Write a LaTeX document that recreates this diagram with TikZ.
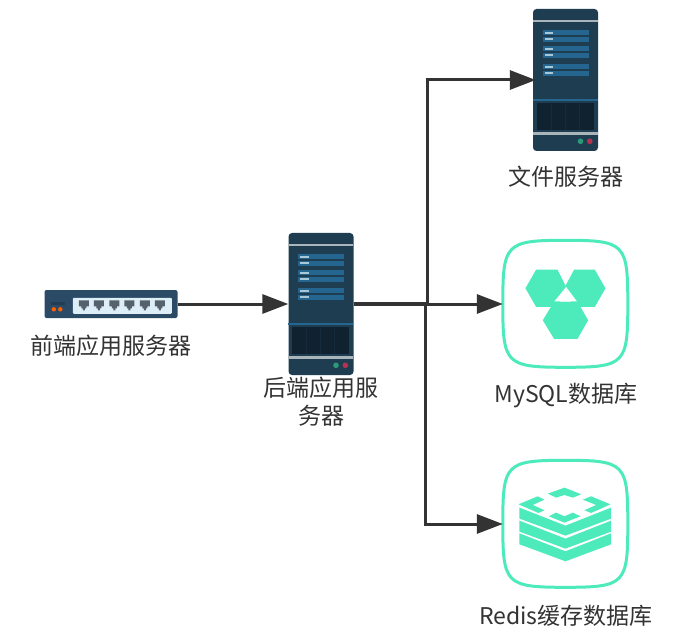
\documentclass[tikz,border=0pt]{standalone}
\usepackage{fontspec}
\setmainfont{Noto Sans CJK SC}
\usetikzlibrary{arrows.meta}
\definecolor{srvbody}{HTML}{1F3D50}
\definecolor{srvdark}{HTML}{10222F}
\definecolor{srvbar}{HTML}{24668F}
\definecolor{srvline}{HTML}{A9B4BB}
\definecolor{srvmark}{HTML}{A8C8D8}
\definecolor{swbody}{HTML}{2B4A66}
\definecolor{swpanel}{HTML}{DDEEF6}
\definecolor{swport}{HTML}{55626D}
\definecolor{mint}{HTML}{4DEBBB}
\definecolor{ink}{HTML}{333333}
\definecolor{ledgreen}{HTML}{2A9A78}
\definecolor{ledred}{HTML}{B8324F}
\tikzset{
  x=1pt,y=-1pt,
  serverbox/.style={fill=srvbody,rounded corners=3.5pt,minimum width=65pt,minimum height=142pt,inner sep=0pt},
  switchbox/.style={fill=swbody,rounded corners=2pt,minimum width=133pt,minimum height=28pt,inner sep=0pt},
  squarebox/.style={minimum width=125pt,minimum height=127pt,inner sep=0pt},
  mintline/.style={draw=mint,line width=3pt,fill=white},
  lbl/.style={text=ink,font=\fontsize{23}{28}\selectfont,align=center,inner sep=0pt},
  conn/.style={draw=ink,line width=3pt,-{Triangle[length=26pt,width=19pt]}},
  trunk/.style={draw=ink,line width=4.5pt}
}
\newcommand{\serverart}[1]{%
  \begin{scope}[shift={(#1.north west)}]
    \fill[srvline] (0,11) rectangle (65,12.8);
    \foreach \yy in {21.5,27.8,37.5,43.8,55.5,61.8}{
      \fill[srvbar] (10,\yy) rectangle (56,\yy+5);
      \fill[srvmark] (12,\yy+1.5) rectangle (20.5,\yy+3.5);
    }
    \fill[srvbar] (0,90.5) rectangle (65,92);
    \fill[srvdark] (4,94) rectangle (61,121);
    \foreach \xx in {18,32,46}{\fill[srvbody!35!srvdark] (\xx,94) rectangle (\xx+1,121);}
    \fill[srvline] (0,123.5) rectangle (65,126.5);
    \fill[ledgreen] (47.7,132.5) circle (2.8);
    \fill[ledred] (57,132.5) circle (2.8);
  \end{scope}}
\newcommand{\switchart}[1]{%
  \begin{scope}[shift={(#1.north west)}]
    \fill[swpanel,rounded corners=1pt] (28.5,8) rectangle (127.5,24);
    \foreach \xx in {39.5,54.5,70,85,100.5,115.5}{
      \fill[swport] (\xx-5,10.5) -- (\xx+5,10.5) -- (\xx+5,16.5) -- (\xx+2.5,16.5) -- (\xx+2.5,18.5) -- (\xx+1,18.5) -- (\xx+1,20.5) -- (\xx-1,20.5) -- (\xx-1,18.5) -- (\xx-2.5,18.5) -- (\xx-2.5,16.5) -- (\xx-5,16.5) -- cycle;
    }
    \fill[srvdark!35!swbody] (7,12) rectangle (20.5,15.5);
    \fill[orange!75!red] (9.5,19.5) circle (2.2);
    \fill[orange!75!red] (16,19.5) circle (2.2);
  \end{scope}}
\newcommand{\squircle}[1]{%
  \begin{scope}[shift={(#1.north west)}]
    \draw[mintline] (62.5,0) .. controls (122.5,0) and (125,3.5) .. (125,63.5)
      .. controls (125,123.5) and (122.5,127) .. (62.5,127)
      .. controls (2.5,127) and (0,123.5) .. (0,63.5)
      .. controls (0,3.5) and (2.5,0) .. (62.5,0) -- cycle;
  \end{scope}}
\newcommand{\mysqlart}[1]{%
  \begin{scope}[shift={(#1.north west)},x=0.3333pt,y=-0.3333pt]
    \begin{scope}[shift={(-40,-30)}]
      \fill[mint] (108,174) -- (140,118) -- (204,118) -- (232,174) -- (204,230) -- (140,230) -- cycle;
      \fill[mint] (224,174) -- (254,118) -- (316,118) -- (348,174) -- (316,230) -- (254,230) -- cycle;
      \fill[mint] (160,270) -- (194,214) -- (264,214) -- (296,270) -- (264,326) -- (194,326) -- cycle;
      \fill[white] (230,170) -- (262,213) -- (195,213) -- cycle;
    \end{scope}
  \end{scope}}
\newcommand{\redisart}[1]{%
  \begin{scope}[shift={(#1.north west)},x=0.3333pt,y=-0.3333pt]
    \begin{scope}[shift={(-40,-30)}]
      \foreach \dd in {0,39,77}{
        \fill[mint] (90,172+\dd) -- (228,226+\dd) -- (365,172+\dd) -- (365,205+\dd) -- (228,256+\dd) -- (90,205+\dd) -- cycle;
      }
      \fill[mint] (175,130) -- (225,112) -- (275,132) -- (250,142) -- (225,134) -- (200,142) -- cycle;
      \fill[mint] (87,162) -- (145,138) -- (165,148) -- (130,164) -- (165,180) -- (147,188) -- cycle;
      \fill[mint] (178,198) -- (200,187) -- (225,198) -- (250,187) -- (273,198) -- (225,217) -- cycle;
      \fill[mint] (280,148) -- (305,138) -- (363,162) -- (305,188) -- (285,180) -- (320,164) -- cycle;
    \end{scope}
  \end{scope}}
\begin{document}
\begin{tikzpicture}
  \useasboundingbox (0,0) rectangle (677,636);
  \fill[white] (0,0) rectangle (677,636);

  \coordinate (j1) at (427,304);
  \coordinate (j2) at (425,304);

  \node[switchbox] (frontend) at (111,304) {};
  \node[serverbox] (backend) at (321,304) {};
  \node[serverbox] (file) at (565.5,80) {};
  \node[squarebox] (mysql) at (565.5,304) {};
  \node[squarebox] (redis) at (565.5,524) {};

  \switchart{frontend}
  \serverart{backend}
  \serverart{file}
  \squircle{mysql}
  \squircle{redis}
  \mysqlart{mysql}
  \redisart{redis}

  \draw[conn] (frontend.east) -- (backend.west);
  \draw[conn] (backend.east) -- (mysql.west);
  \draw[conn,shorten >=-3pt] (backend.east) -- (j1) |- (file.west);
  \draw[conn] (backend.east) -- (j2) |- (redis.west);
  \draw[trunk] (backend.east) -- (j1);

  \node[lbl] (lfile) at (565.5,177) {文件服务器};
  \node[lbl] (lfront) at (111,346) {前端应用服务器};
  \node[lbl] (lback) at (321,402) {后端应用服\\务器};
  \node[lbl] (lmysql) at (566,396) {MySQL数据库};
  \node[lbl] (lredis) at (566,616) {Redis缓存数据库};
\end{tikzpicture}
\end{document}
